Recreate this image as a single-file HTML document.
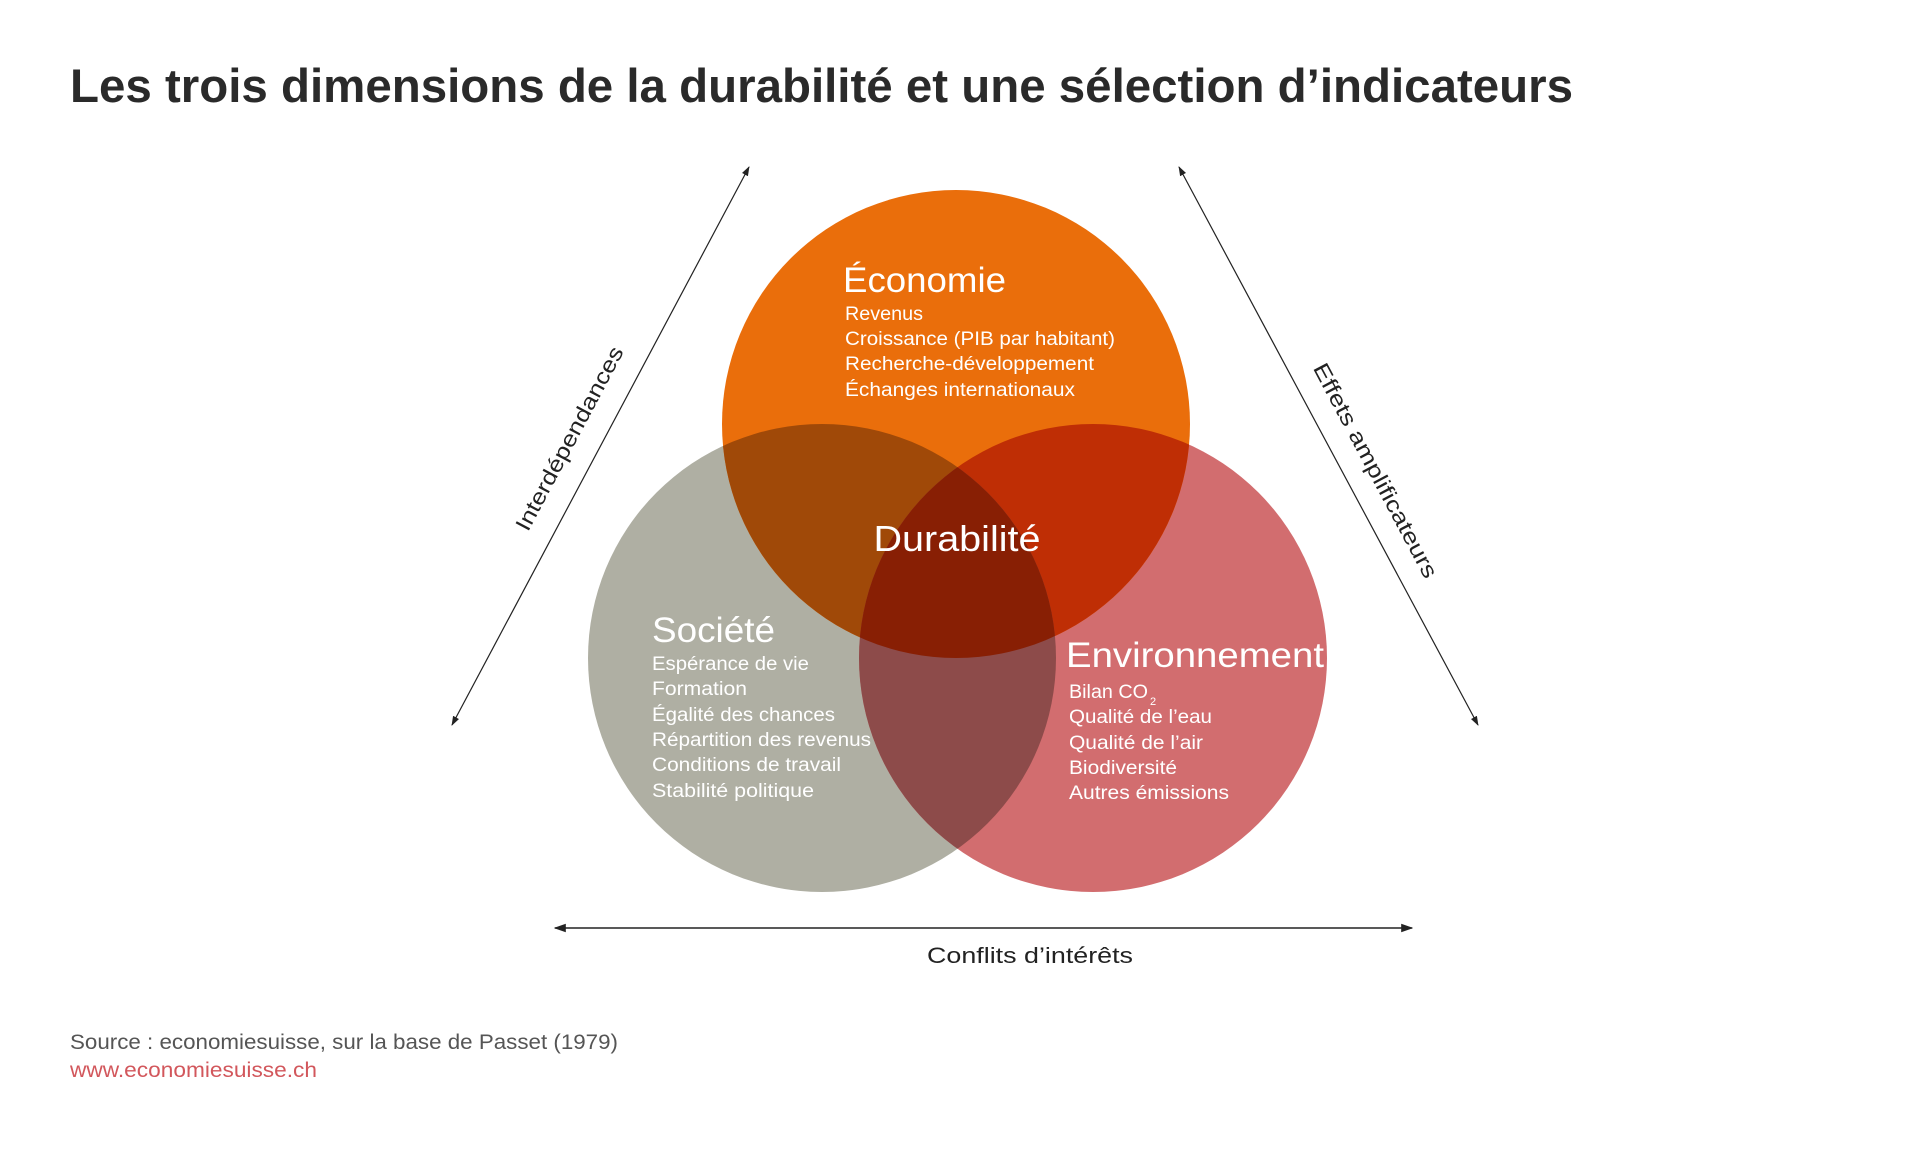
<!DOCTYPE html>
<html><head><meta charset="utf-8"><style>
html,body{margin:0;padding:0;background:#fff;}
svg{display:block;}
text{font-family:"Liberation Sans",sans-serif;}
</style></head><body>
<svg width="1920" height="1151" viewBox="0 0 1920 1151" xmlns="http://www.w3.org/2000/svg">
<defs>
<clipPath id="cE"><circle cx="956" cy="424" r="234"/></clipPath>
<clipPath id="cS"><circle cx="822" cy="658" r="234"/></clipPath>
<clipPath id="cV"><circle cx="1093" cy="658" r="234"/></clipPath>
<marker id="ah" viewBox="0 0 10 10" refX="9" refY="5" markerWidth="8" markerHeight="8" orient="auto-start-reverse"><path d="M0,1.5 L10,5 L0,8.5 z" fill="#222"/></marker>
</defs>
<text x="70" y="102" font-size="47" font-weight="bold" fill="#2a2a2a" textLength="1503" lengthAdjust="spacingAndGlyphs">Les trois dimensions de la durabilité et une sélection d’indicateurs</text>

<circle cx="822" cy="658" r="234" fill="#afafa3"/>
<circle cx="1093" cy="658" r="234" fill="#d26d6f"/>
<circle cx="956" cy="424" r="234" fill="#ea6e0b"/>
<g clip-path="url(#cE)"><circle cx="822" cy="658" r="234" fill="#a04908"/></g>
<g clip-path="url(#cE)"><circle cx="1093" cy="658" r="234" fill="#bf2e05"/></g>
<g clip-path="url(#cS)"><circle cx="1093" cy="658" r="234" fill="#8d4b4a"/></g>
<g clip-path="url(#cS)"><g clip-path="url(#cE)"><circle cx="1093" cy="658" r="234" fill="#881f04"/></g></g>

<line x1="749" y1="167" x2="452" y2="725" stroke="#222" stroke-width="1.2" marker-start="url(#ah)" marker-end="url(#ah)"/>
<line x1="1179" y1="167" x2="1478" y2="725" stroke="#222" stroke-width="1.2" marker-start="url(#ah)" marker-end="url(#ah)"/>
<line x1="555" y1="928" x2="1412" y2="928" stroke="#222" stroke-width="1.5" marker-start="url(#ah)" marker-end="url(#ah)"/>

<text transform="translate(576,442) rotate(-62)" text-anchor="middle" font-size="22" fill="#222" textLength="205" lengthAdjust="spacingAndGlyphs" y="0">Interdépendances</text>
<text transform="translate(1369,474) rotate(62)" text-anchor="middle" font-size="22" fill="#222" textLength="240" lengthAdjust="spacingAndGlyphs" y="0">Effets amplificateurs</text>

<g fill="#fff">
<text x="843" y="292" font-size="35" textLength="163" lengthAdjust="spacingAndGlyphs">Économie</text>
<text x="845" y="320" font-size="19" textLength="78" lengthAdjust="spacingAndGlyphs">Revenus</text>
<text x="845" y="345" font-size="19" textLength="270" lengthAdjust="spacingAndGlyphs">Croissance (PIB par habitant)</text>
<text x="845" y="370" font-size="19" textLength="249" lengthAdjust="spacingAndGlyphs">Recherche-développement</text>
<text x="845" y="396" font-size="19" textLength="230" lengthAdjust="spacingAndGlyphs">Échanges internationaux</text>

<text x="957" y="551" font-size="36" text-anchor="middle" textLength="167" lengthAdjust="spacingAndGlyphs">Durabilité</text>

<text x="652" y="642" font-size="35" textLength="123" lengthAdjust="spacingAndGlyphs">Société</text>
<text x="652" y="670" font-size="19" textLength="157" lengthAdjust="spacingAndGlyphs">Espérance de vie</text>
<text x="652" y="695" font-size="19" textLength="95" lengthAdjust="spacingAndGlyphs">Formation</text>
<text x="652" y="721" font-size="19" textLength="183" lengthAdjust="spacingAndGlyphs">Égalité des chances</text>
<text x="652" y="746" font-size="19" textLength="219" lengthAdjust="spacingAndGlyphs">Répartition des revenus</text>
<text x="652" y="771" font-size="19" textLength="189" lengthAdjust="spacingAndGlyphs">Conditions de travail</text>
<text x="652" y="797" font-size="19" textLength="162" lengthAdjust="spacingAndGlyphs">Stabilité politique</text>

<text x="1066" y="667" font-size="35" textLength="258" lengthAdjust="spacingAndGlyphs">Environnement</text>
<text x="1069" y="698" font-size="19" textLength="79" lengthAdjust="spacingAndGlyphs">Bilan CO</text>
<text x="1150" y="705" font-size="11">2</text>
<text x="1069" y="723" font-size="19" textLength="143" lengthAdjust="spacingAndGlyphs">Qualité de l’eau</text>
<text x="1069" y="749" font-size="19" textLength="134" lengthAdjust="spacingAndGlyphs">Qualité de l’air</text>
<text x="1069" y="774" font-size="19" textLength="108" lengthAdjust="spacingAndGlyphs">Biodiversité</text>
<text x="1069" y="799" font-size="19" textLength="160" lengthAdjust="spacingAndGlyphs">Autres émissions</text>
</g>

<text x="927" y="963" font-size="22" fill="#222" textLength="206" lengthAdjust="spacingAndGlyphs">Conflits d’intérêts</text>
<text x="70" y="1049" font-size="21" fill="#555" textLength="548" lengthAdjust="spacingAndGlyphs">Source : economiesuisse, sur la base de Passet (1979)</text>
<text x="70" y="1077" font-size="21" fill="#d2575c" textLength="247" lengthAdjust="spacingAndGlyphs">www.economiesuisse.ch</text>
</svg>
</body></html>
